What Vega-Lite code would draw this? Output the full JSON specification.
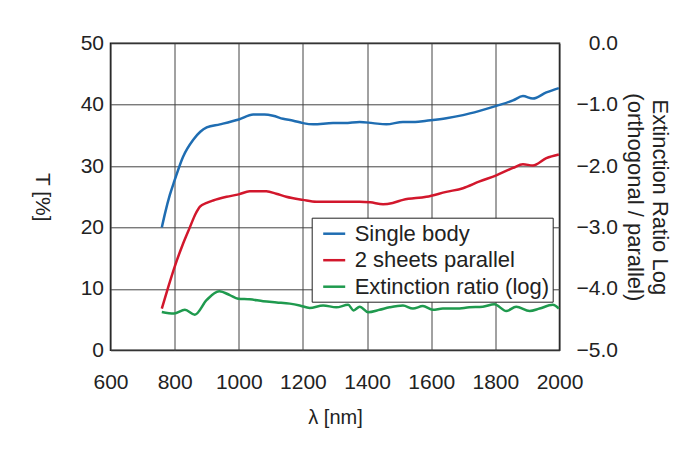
{
  "$schema": "https://vega.github.io/schema/vega-lite/v6.json",
  "width": 449,
  "height": 307,
  "autosize": {"type": "none"},
  "padding": {"left": 110.5, "top": 43.3, "right": 140.5, "bottom": 99.7},
  "background": "white",
  "datasets": {
    "t": [
      {"wl": 760, "value": 20.0, "series": "Single body"},
      {"wl": 770, "value": 22.3, "series": "Single body"},
      {"wl": 785, "value": 25.3, "series": "Single body"},
      {"wl": 800, "value": 27.7, "series": "Single body"},
      {"wl": 826, "value": 31.5, "series": "Single body"},
      {"wl": 858, "value": 34.3, "series": "Single body"},
      {"wl": 880, "value": 35.6, "series": "Single body"},
      {"wl": 900, "value": 36.3, "series": "Single body"},
      {"wl": 941, "value": 36.8, "series": "Single body"},
      {"wl": 1000, "value": 37.6, "series": "Single body"},
      {"wl": 1045, "value": 38.4, "series": "Single body"},
      {"wl": 1080, "value": 38.4, "series": "Single body"},
      {"wl": 1107, "value": 38.2, "series": "Single body"},
      {"wl": 1138, "value": 37.7, "series": "Single body"},
      {"wl": 1170, "value": 37.4, "series": "Single body"},
      {"wl": 1200, "value": 37.0, "series": "Single body"},
      {"wl": 1232, "value": 36.8, "series": "Single body"},
      {"wl": 1294, "value": 37.0, "series": "Single body"},
      {"wl": 1330, "value": 37.0, "series": "Single body"},
      {"wl": 1377, "value": 37.2, "series": "Single body"},
      {"wl": 1418, "value": 37.0, "series": "Single body"},
      {"wl": 1460, "value": 36.8, "series": "Single body"},
      {"wl": 1512, "value": 37.2, "series": "Single body"},
      {"wl": 1550, "value": 37.2, "series": "Single body"},
      {"wl": 1585, "value": 37.4, "series": "Single body"},
      {"wl": 1647, "value": 37.8, "series": "Single body"},
      {"wl": 1699, "value": 38.3, "series": "Single body"},
      {"wl": 1751, "value": 39.0, "series": "Single body"},
      {"wl": 1803, "value": 39.8, "series": "Single body"},
      {"wl": 1855, "value": 40.7, "series": "Single body"},
      {"wl": 1886, "value": 41.4, "series": "Single body"},
      {"wl": 1917, "value": 41.0, "series": "Single body"},
      {"wl": 1959, "value": 42.0, "series": "Single body"},
      {"wl": 1998, "value": 42.7, "series": "Single body"},
      {"wl": 760, "value": 6.8, "series": "2 sheets parallel"},
      {"wl": 780, "value": 10.3, "series": "2 sheets parallel"},
      {"wl": 800, "value": 13.6, "series": "2 sheets parallel"},
      {"wl": 825, "value": 17.2, "series": "2 sheets parallel"},
      {"wl": 848, "value": 20.1, "series": "2 sheets parallel"},
      {"wl": 865, "value": 22.2, "series": "2 sheets parallel"},
      {"wl": 879, "value": 23.4, "series": "2 sheets parallel"},
      {"wl": 900, "value": 24.0, "series": "2 sheets parallel"},
      {"wl": 920, "value": 24.4, "series": "2 sheets parallel"},
      {"wl": 962, "value": 25.0, "series": "2 sheets parallel"},
      {"wl": 1000, "value": 25.4, "series": "2 sheets parallel"},
      {"wl": 1034, "value": 25.9, "series": "2 sheets parallel"},
      {"wl": 1086, "value": 25.9, "series": "2 sheets parallel"},
      {"wl": 1117, "value": 25.5, "series": "2 sheets parallel"},
      {"wl": 1148, "value": 25.0, "series": "2 sheets parallel"},
      {"wl": 1200, "value": 24.5, "series": "2 sheets parallel"},
      {"wl": 1242, "value": 24.2, "series": "2 sheets parallel"},
      {"wl": 1294, "value": 24.2, "series": "2 sheets parallel"},
      {"wl": 1377, "value": 24.2, "series": "2 sheets parallel"},
      {"wl": 1410, "value": 24.1, "series": "2 sheets parallel"},
      {"wl": 1450, "value": 23.8, "series": "2 sheets parallel"},
      {"wl": 1480, "value": 24.0, "series": "2 sheets parallel"},
      {"wl": 1512, "value": 24.5, "series": "2 sheets parallel"},
      {"wl": 1585, "value": 25.0, "series": "2 sheets parallel"},
      {"wl": 1647, "value": 25.8, "series": "2 sheets parallel"},
      {"wl": 1699, "value": 26.4, "series": "2 sheets parallel"},
      {"wl": 1751, "value": 27.5, "series": "2 sheets parallel"},
      {"wl": 1803, "value": 28.5, "series": "2 sheets parallel"},
      {"wl": 1855, "value": 29.7, "series": "2 sheets parallel"},
      {"wl": 1886, "value": 30.3, "series": "2 sheets parallel"},
      {"wl": 1917, "value": 30.1, "series": "2 sheets parallel"},
      {"wl": 1959, "value": 31.3, "series": "2 sheets parallel"},
      {"wl": 1998, "value": 31.9, "series": "2 sheets parallel"}
    ],
    "e": [
      {"wl": 760, "value": -4.375, "series": "Extinction ratio (log)"},
      {"wl": 798, "value": -4.40, "series": "Extinction ratio (log)"},
      {"wl": 832, "value": -4.34, "series": "Extinction ratio (log)"},
      {"wl": 863, "value": -4.42, "series": "Extinction ratio (log)"},
      {"wl": 900, "value": -4.18, "series": "Extinction ratio (log)"},
      {"wl": 939, "value": -4.04, "series": "Extinction ratio (log)"},
      {"wl": 972, "value": -4.10, "series": "Extinction ratio (log)"},
      {"wl": 998, "value": -4.16, "series": "Extinction ratio (log)"},
      {"wl": 1034, "value": -4.17, "series": "Extinction ratio (log)"},
      {"wl": 1076, "value": -4.20, "series": "Extinction ratio (log)"},
      {"wl": 1118, "value": -4.22, "series": "Extinction ratio (log)"},
      {"wl": 1159, "value": -4.24, "series": "Extinction ratio (log)"},
      {"wl": 1190, "value": -4.27, "series": "Extinction ratio (log)"},
      {"wl": 1221, "value": -4.31, "series": "Extinction ratio (log)"},
      {"wl": 1263, "value": -4.27, "series": "Extinction ratio (log)"},
      {"wl": 1304, "value": -4.30, "series": "Extinction ratio (log)"},
      {"wl": 1341, "value": -4.26, "series": "Extinction ratio (log)"},
      {"wl": 1358, "value": -4.35, "series": "Extinction ratio (log)"},
      {"wl": 1377, "value": -4.29, "series": "Extinction ratio (log)"},
      {"wl": 1403, "value": -4.38, "series": "Extinction ratio (log)"},
      {"wl": 1439, "value": -4.34, "series": "Extinction ratio (log)"},
      {"wl": 1470, "value": -4.30, "series": "Extinction ratio (log)"},
      {"wl": 1512, "value": -4.27, "series": "Extinction ratio (log)"},
      {"wl": 1543, "value": -4.32, "series": "Extinction ratio (log)"},
      {"wl": 1574, "value": -4.28, "series": "Extinction ratio (log)"},
      {"wl": 1605, "value": -4.34, "series": "Extinction ratio (log)"},
      {"wl": 1636, "value": -4.32, "series": "Extinction ratio (log)"},
      {"wl": 1678, "value": -4.32, "series": "Extinction ratio (log)"},
      {"wl": 1719, "value": -4.30, "series": "Extinction ratio (log)"},
      {"wl": 1761, "value": -4.29, "series": "Extinction ratio (log)"},
      {"wl": 1797, "value": -4.25, "series": "Extinction ratio (log)"},
      {"wl": 1834, "value": -4.36, "series": "Extinction ratio (log)"},
      {"wl": 1865, "value": -4.29, "series": "Extinction ratio (log)"},
      {"wl": 1907, "value": -4.36, "series": "Extinction ratio (log)"},
      {"wl": 1938, "value": -4.32, "series": "Extinction ratio (log)"},
      {"wl": 1979, "value": -4.26, "series": "Extinction ratio (log)"},
      {"wl": 1998, "value": -4.32, "series": "Extinction ratio (log)"}
    ]
  },
  "layer": [
    {
      "data": {"name": "t"},
      "mark": {"type": "line", "strokeWidth": 2.5, "interpolate": "monotone"},
      "encoding": {
        "x": {
          "field": "wl", "type": "quantitative",
          "scale": {"domain": [600, 2000], "nice": false, "zero": false},
          "axis": {"values": [600, 800, 1000, 1200, 1400, 1600, 1800, 2000], "format": "d", "title": "λ [nm]", "titleFontSize": 20, "labelPadding": 21, "titlePadding": 15, "labelFlush": false, "labelOverlap": false}
        },
        "y": {
          "field": "value", "type": "quantitative",
          "scale": {"domain": [0, 50], "nice": false},
          "axis": {"values": [0, 10, 20, 30, 40, 50], "format": "d", "title": "T [%]", "titleFontSize": 21, "titleAngle": 90, "titleBaseline": "top", "labelPadding": 7, "titlePadding": 28, "labelFlush": false, "labelOverlap": false}
        },
        "color": {
          "field": "series", "type": "nominal",
          "scale": {"domain": ["Single body", "2 sheets parallel", "Extinction ratio (log)"], "range": ["#1f6db2", "#d2172c", "#1f9a4e"]},
          "legend": {"title": null, "orient": "none", "legendX": 201.2, "legendY": 174.4, "symbolType": "stroke", "symbolSize": 484, "symbolStrokeWidth": 2.5, "symbolOffset": 6.5, "labelFontSize": 22, "labelOffset": 8, "rowPadding": 2.5, "padding": 3.5, "strokeColor": "#222", "fillColor": "white", "cornerRadius": 0, "labelColor": "#222", "labelFont": "Liberation Sans", "labelLimit": 400}
        }
      }
    },
    {
      "data": {"name": "e"},
      "mark": {"type": "line", "strokeWidth": 2.5, "interpolate": "monotone"},
      "encoding": {
        "x": {"field": "wl", "type": "quantitative"},
        "y": {
          "field": "value", "type": "quantitative",
          "scale": {"domain": [-5, 0], "nice": false, "zero": false},
          "axis": {"orient": "right", "values": [-5, -4, -3, -2, -1, 0], "format": ".1f", "grid": false, "labelAlign": "right", "labelPadding": 58, "labelFlush": false, "labelOverlap": false, "title": ["Extinction Ratio Log", "(orthogonal / parallel)"], "titleFontSize": 22, "titleAngle": 90, "titleBaseline": "bottom", "titleLineHeight": 25, "titlePadding": 5}
        },
        "color": {"field": "series", "type": "nominal"}
      }
    }
  ],
  "resolve": {"scale": {"y": "independent"}},
  "config": {
    "view": {"stroke": "#111", "strokeWidth": 1.5},
    "font": "Liberation Sans",
    "axis": {
      "labelFont": "Liberation Sans", "titleFont": "Liberation Sans",
      "labelFontSize": 21, "titleFontSize": 21, "titleFontWeight": "normal",
      "labelColor": "#222", "titleColor": "#222",
      "ticks": false, "domain": false,
      "grid": true, "gridColor": "#444", "gridWidth": 1, "gridOpacity": 1
    }
  }
}
